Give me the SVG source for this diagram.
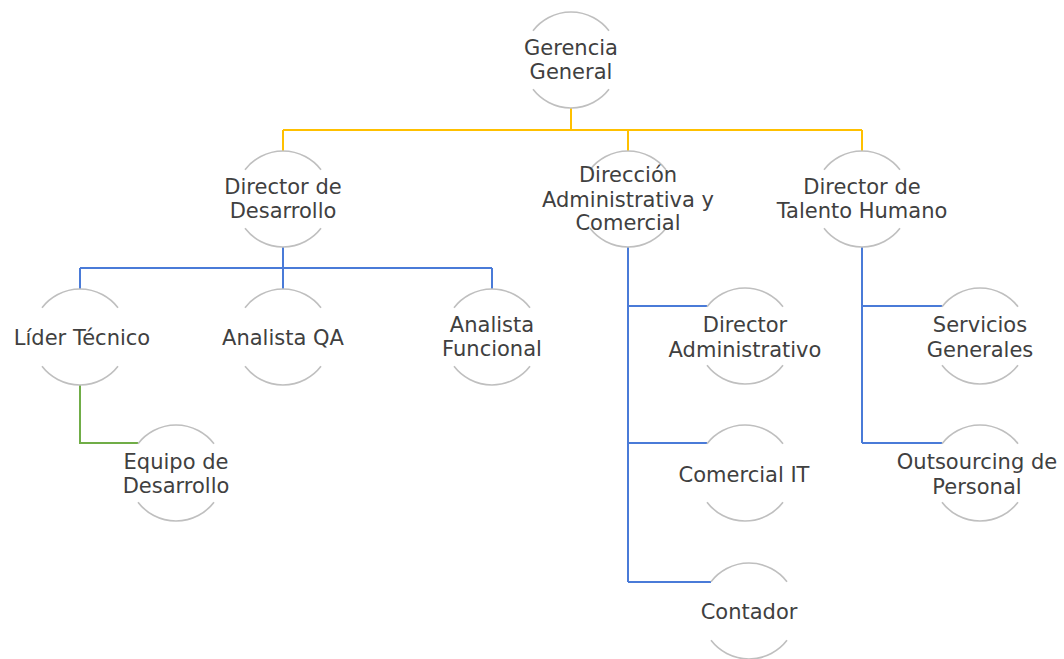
<svg xmlns="http://www.w3.org/2000/svg" xmlns:xlink="http://www.w3.org/1999/xlink" width="1064" height="659" viewBox="0 0 1064 659">
<style>
.t{font-family:"DejaVu Sans","Liberation Sans",sans-serif;font-size:21px;fill:#404040;text-anchor:middle}
.ring{fill:none;stroke:#BFBFBF;stroke-width:1.6}
.y{fill:none;stroke:#FFC000;stroke-width:2}
.b{fill:none;stroke:#4A7BD8;stroke-width:2}
.g{fill:none;stroke:#70AD47;stroke-width:2}
</style>
<defs>
<path id="ring" class="ring" d="M-38,-29.3 A48,48 0 0 1 38,-29.3 M-38,29.3 A48,48 0 0 0 38,29.3"/>
</defs>
<rect width="1064" height="659" fill="#ffffff"/>
<g id="connectors">
<path class="y" d="M571,108 V130 M283,130 H862 M283,130 V151 M628,130 V151 M862,130 V151"/>
<path class="b" d="M283,247 V268 M80,268 H492 M80,268 V289 M283,268 V289 M492,268 V289"/>
<path class="g" d="M80,385 V443 H138"/>
<path class="b" d="M628,247 V582 M628,306 H707 M628,443 H707 M628,582 H711"/>
<path class="b" d="M862,247 V443 M862,306 H942 M862,443 H942"/>
</g>
<g id="gerencia"><use xlink:href="#ring" href="#ring" x="571" y="60"/><text class="t" x="571"><tspan x="571" y="55">Gerencia</tspan><tspan x="571" y="79">General</tspan></text></g>
<g id="dir-desarrollo"><use xlink:href="#ring" href="#ring" x="283" y="199"/><text class="t"><tspan x="283" y="194">Director de</tspan><tspan x="283" y="218">Desarrollo</tspan></text></g>
<g id="dir-administrativa"><use xlink:href="#ring" href="#ring" x="628" y="199"/><text class="t"><tspan x="628" y="182">Dirección</tspan><tspan x="628" y="207">Administrativa y</tspan><tspan x="628" y="230">Comercial</tspan></text></g>
<g id="dir-talento"><use xlink:href="#ring" href="#ring" x="862" y="199"/><text class="t"><tspan x="862" y="194">Director de</tspan><tspan x="862" y="218">Talento Humano</tspan></text></g>
<g id="lider-tecnico"><use xlink:href="#ring" href="#ring" x="80" y="337"/><text class="t" x="82" y="345">Líder Técnico</text></g>
<g id="analista-qa"><use xlink:href="#ring" href="#ring" x="283" y="337"/><text class="t" x="283" y="345">Analista QA</text></g>
<g id="analista-funcional"><use xlink:href="#ring" href="#ring" x="492" y="337"/><text class="t"><tspan x="492" y="332">Analista</tspan><tspan x="492" y="356">Funcional</tspan></text></g>
<g id="equipo-desarrollo"><use xlink:href="#ring" href="#ring" x="176" y="473"/><text class="t"><tspan x="176" y="469">Equipo de</tspan><tspan x="176" y="493">Desarrollo</tspan></text></g>
<g id="director-administrativo"><use xlink:href="#ring" href="#ring" x="745" y="336"/><text class="t"><tspan x="745" y="332">Director</tspan><tspan x="745" y="357">Administrativo</tspan></text></g>
<g id="comercial-it"><use xlink:href="#ring" href="#ring" x="745" y="473"/><text class="t" x="744" y="482">Comercial IT</text></g>
<g id="contador"><use xlink:href="#ring" href="#ring" x="749" y="611"/><text class="t" x="749" y="619">Contador</text></g>
<g id="servicios-generales"><use xlink:href="#ring" href="#ring" x="980" y="336"/><text class="t"><tspan x="980" y="332">Servicios</tspan><tspan x="980" y="357">Generales</tspan></text></g>
<g id="outsourcing"><use xlink:href="#ring" href="#ring" x="980" y="473"/><text class="t"><tspan x="977" y="469">Outsourcing de</tspan><tspan x="977" y="494">Personal</tspan></text></g>
</svg>
